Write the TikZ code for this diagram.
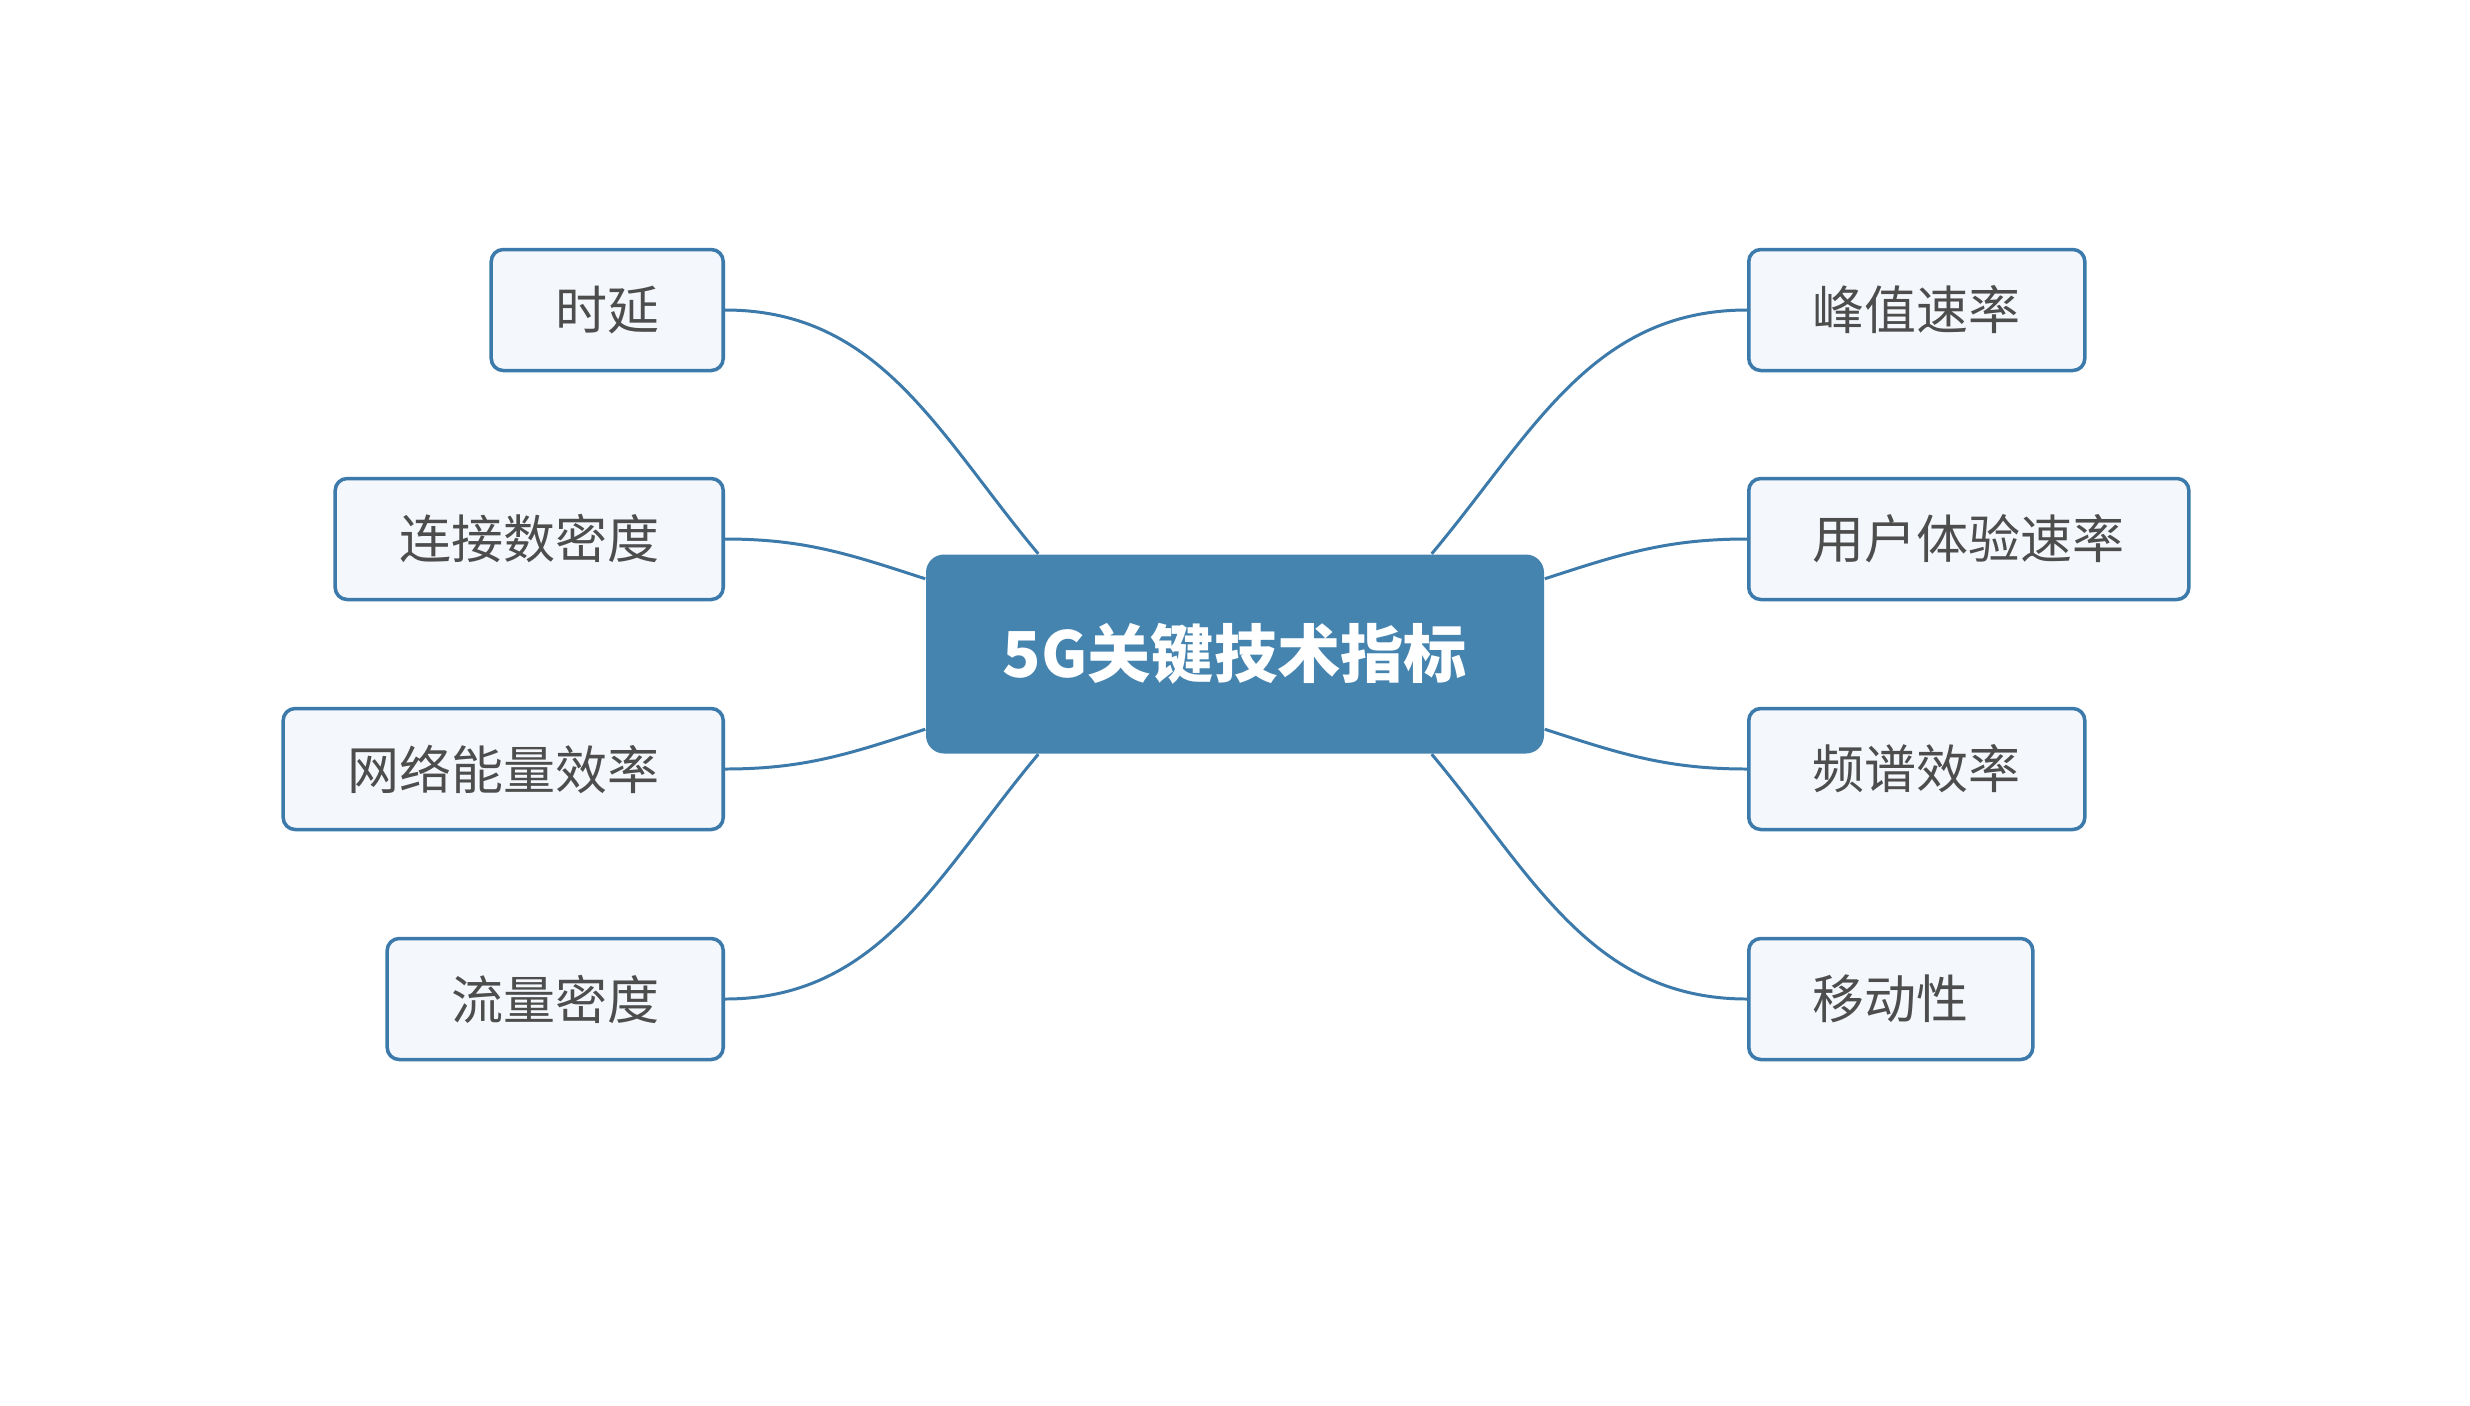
\documentclass[tikz,border=0pt]{standalone}
\usepackage{fontspec}
\setmainfont{Noto Sans CJK SC}
\usetikzlibrary{calc}
\definecolor{hubblue}{RGB}{70,132,176}
\definecolor{linkblue}{RGB}{59,122,170}
\definecolor{leaffill}{RGB}{244,247,252}
\definecolor{leaftext}{RGB}{77,77,77}
\begin{document}
\begin{tikzpicture}[
        hub/.style={fill=hubblue, rounded corners=1.8mm, minimum width=61.8mm, minimum height=19.9mm, text=white, font=\fontsize{18}{20}\selectfont\bfseries},
        leaf/.style={draw=linkblue, line width=1pt, fill=leaffill, rounded corners=1.2mm, minimum height=12.1mm, inner xsep=6.4mm, text=leaftext, font=\fontsize{14.8}{16}\selectfont},
        link/.style={draw=linkblue, line width=0.85pt}]
    \fill[white] (0,0) rectangle (24.7,-14.05);
    \node[hub] (hub) at (12.35,-6.54) {5G关键技术指标};
    % left side
    \node[leaf, anchor=east] (delay) at (7.25,-3.10) {时延};
    \node[leaf, anchor=east] (conn) at (7.25,-5.39) {连接数密度};
    \node[leaf, anchor=east] (energy) at (7.25,-7.69) {网络能量效率};
    \node[leaf, anchor=east] (traffic) at (7.25,-9.99) {流量密度};
    % right side
    \node[leaf, anchor=west] (peak) at (17.47,-3.10) {峰值速率};
    \node[leaf, anchor=west] (user) at (17.47,-5.39) {用户体验速率};
    \node[leaf, anchor=west] (spectrum) at (17.47,-7.69) {频谱效率};
    \node[leaf, anchor=west] (mobility) at (17.47,-9.99) {移动性};
    \draw[link] (delay.east) to[out=0,in=130] ([xshift=11.3mm]hub.north west);
    \draw[link] (conn.east) to[out=0,in=162] ([yshift=-2.5mm]hub.north west);
    \draw[link] (energy.east) to[out=0,in=198] ([yshift=2.5mm]hub.south west);
    \draw[link] (traffic.east) to[out=0,in=230] ([xshift=11.3mm]hub.south west);
    \draw[link] (peak.west) to[out=180,in=50] ([xshift=-11.3mm]hub.north east);
    \draw[link] (user.west) to[out=180,in=18] ([yshift=-2.5mm]hub.north east);
    \draw[link] (spectrum.west) to[out=180,in=-18] ([yshift=2.5mm]hub.south east);
    \draw[link] (mobility.west) to[out=180,in=-50] ([xshift=-11.3mm]hub.south east);
\end{tikzpicture}
\end{document}
